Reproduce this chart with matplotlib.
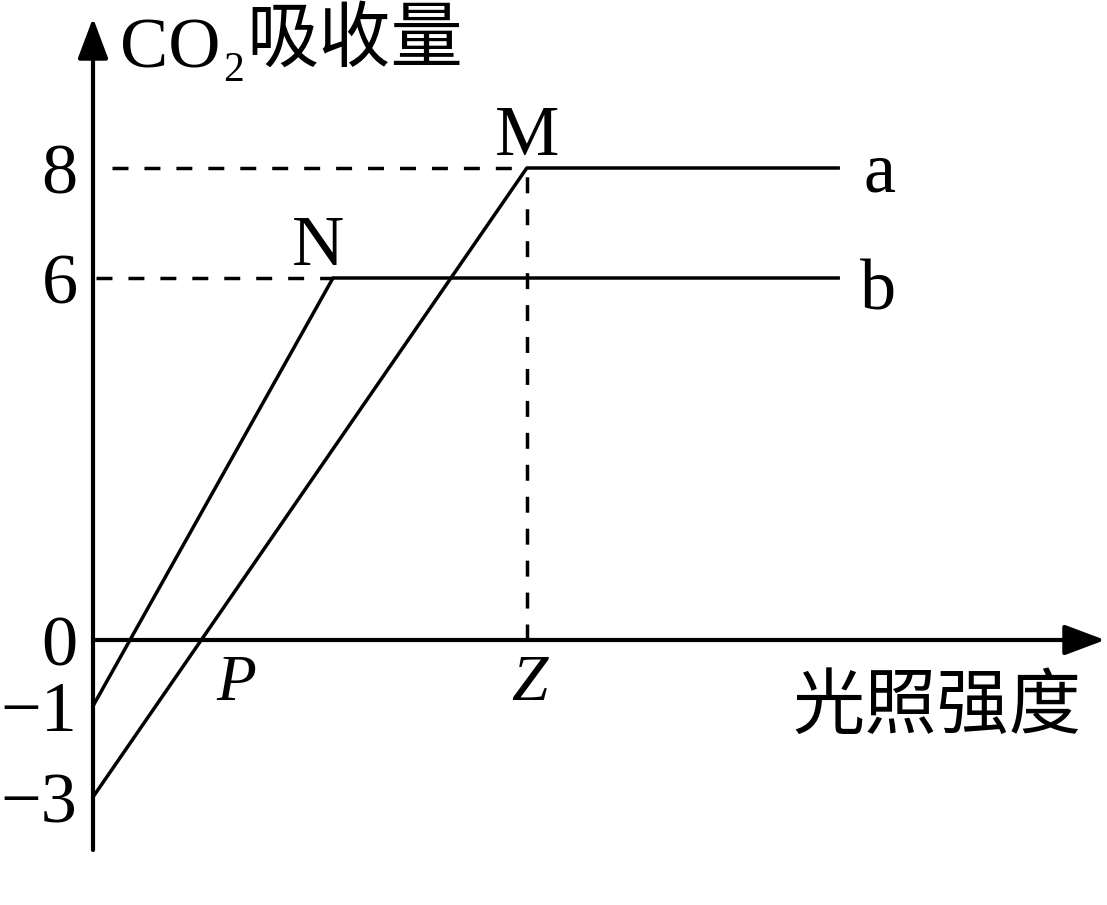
import numpy as np
import matplotlib.pyplot as plt
from matplotlib.ticker import NullLocator

W, H = 1107, 905

# values marked on the CO2 axis
y_ticks = [8, 6, 0, -1, -3]
y_tick_labels = ['8', '6', '0', '\u22121', '\u22123']

# curve a: from -3 up to M (8), then flat
a_x = [0.0, 7.23, 12.42]
a_y = [-3, 8, 8]
# curve b: from -1 up to N (6), then flat
b_x = [0.0, 4.0, 12.42]
b_y = [-1, 6, 6]

SERIF = 'Liberation Serif'
CJK = 'Noto Sans CJK SC'

# the drawing is schematic, so map values to the heights used in the picture
knot_vals = np.array([-6, -3, -1, 0, 6, 8, 12], dtype=float)
knot_pix = np.array([933.5, 797, 706, 640, 278, 168, -52], dtype=float)


def fwd(v):
    return -np.interp(v, knot_vals, knot_pix)


def inv(t):
    return np.interp(t, -knot_pix, knot_vals)


px_per_x = 60.0
x0 = 93  # pixel column of the vertical axis

fig = plt.figure(figsize=(W / 100, H / 100), dpi=100)
ax = fig.add_axes([x0 / W, 0, 1 - x0 / W, 1])
ax.set_yscale('function', functions=(fwd, inv))
ax.set_xlim(0, (W - x0) / px_per_x)
ax.set_ylim(inv(-H), inv(0))
ax.patch.set_alpha(0)
for s in ax.spines.values():
    s.set_visible(False)

# axes with arrow heads
arrow = dict(arrowstyle='-|>,head_length=1.25,head_width=0.47', lw=3.0,
             color='k', mutation_scale=20, shrinkA=0, shrinkB=0)
ax.annotate('', xy=(0, inv(-18)), xytext=(0, inv(-850)), arrowprops=arrow)
ax.annotate('', xy=((1105 - x0) / px_per_x, 0), xytext=(0, 0), arrowprops=arrow)

# curves
ax.plot(a_x, a_y, color='k', lw=2.5)
ax.plot(b_x, b_y, color='k', lw=2.5)

# dashed guides
dash = dict(color='k', lw=2.5, linestyle=(0, (4.6, 4.6)))
ax.plot([19 / px_per_x, a_x[1]], [a_y[1], a_y[1]], **dash)
ax.plot([3 / px_per_x, b_x[1]], [b_y[1], b_y[1]], **dash)
ax.plot([a_x[1], a_x[1]], [0, a_y[1]], **dash)

# ticks
ax.set_xticks([])
ax.set_yticks(y_ticks)
ax.set_yticklabels(y_tick_labels, fontsize=52, family=SERIF)
ax.yaxis.set_minor_locator(NullLocator())
ax.tick_params(axis='y', length=0, pad=11)

# point labels
def label(txt, xy, dx, dy, size=52, style='normal'):
    ax.annotate(txt, xy=xy, xytext=(dx, dy), textcoords='offset points',
                ha='center', va='baseline', fontsize=size, family=SERIF,
                style=style)

label('M', (a_x[1], a_y[1]), 0, 9.4)
label('N', (b_x[1], b_y[1]), -10.8, 9.4)
label('a', (a_x[2], a_y[2]), 30, -17)
label('b', (b_x[2], b_y[2]), 29, -23)
p_x = np.interp(0, a_y[:2], a_x[:2])
label('P', (p_x, 0), 18, -43, size=47, style='italic')
label('Z', (a_x[1], 0), 2, -43, size=47, style='italic')


# axis titles
def fpos(x, y):
    return x / W, 1 - y / H


fig.text(*fpos(120, 68), 'CO', fontsize=52, family=SERIF, ha='left', va='baseline')
fig.text(*fpos(223, 81), '2', fontsize=30, family=SERIF, ha='left', va='baseline')
fig.text(*fpos(246, 40), '吸收量', fontsize=52, family=[CJK, 'DejaVu Sans'],
         ha='left', va='center')
fig.text(*fpos(1082, 707), '光照强度', fontsize=52, family=[CJK, 'DejaVu Sans'],
         ha='right', va='center')

fig.savefig('out.png', dpi=100)
